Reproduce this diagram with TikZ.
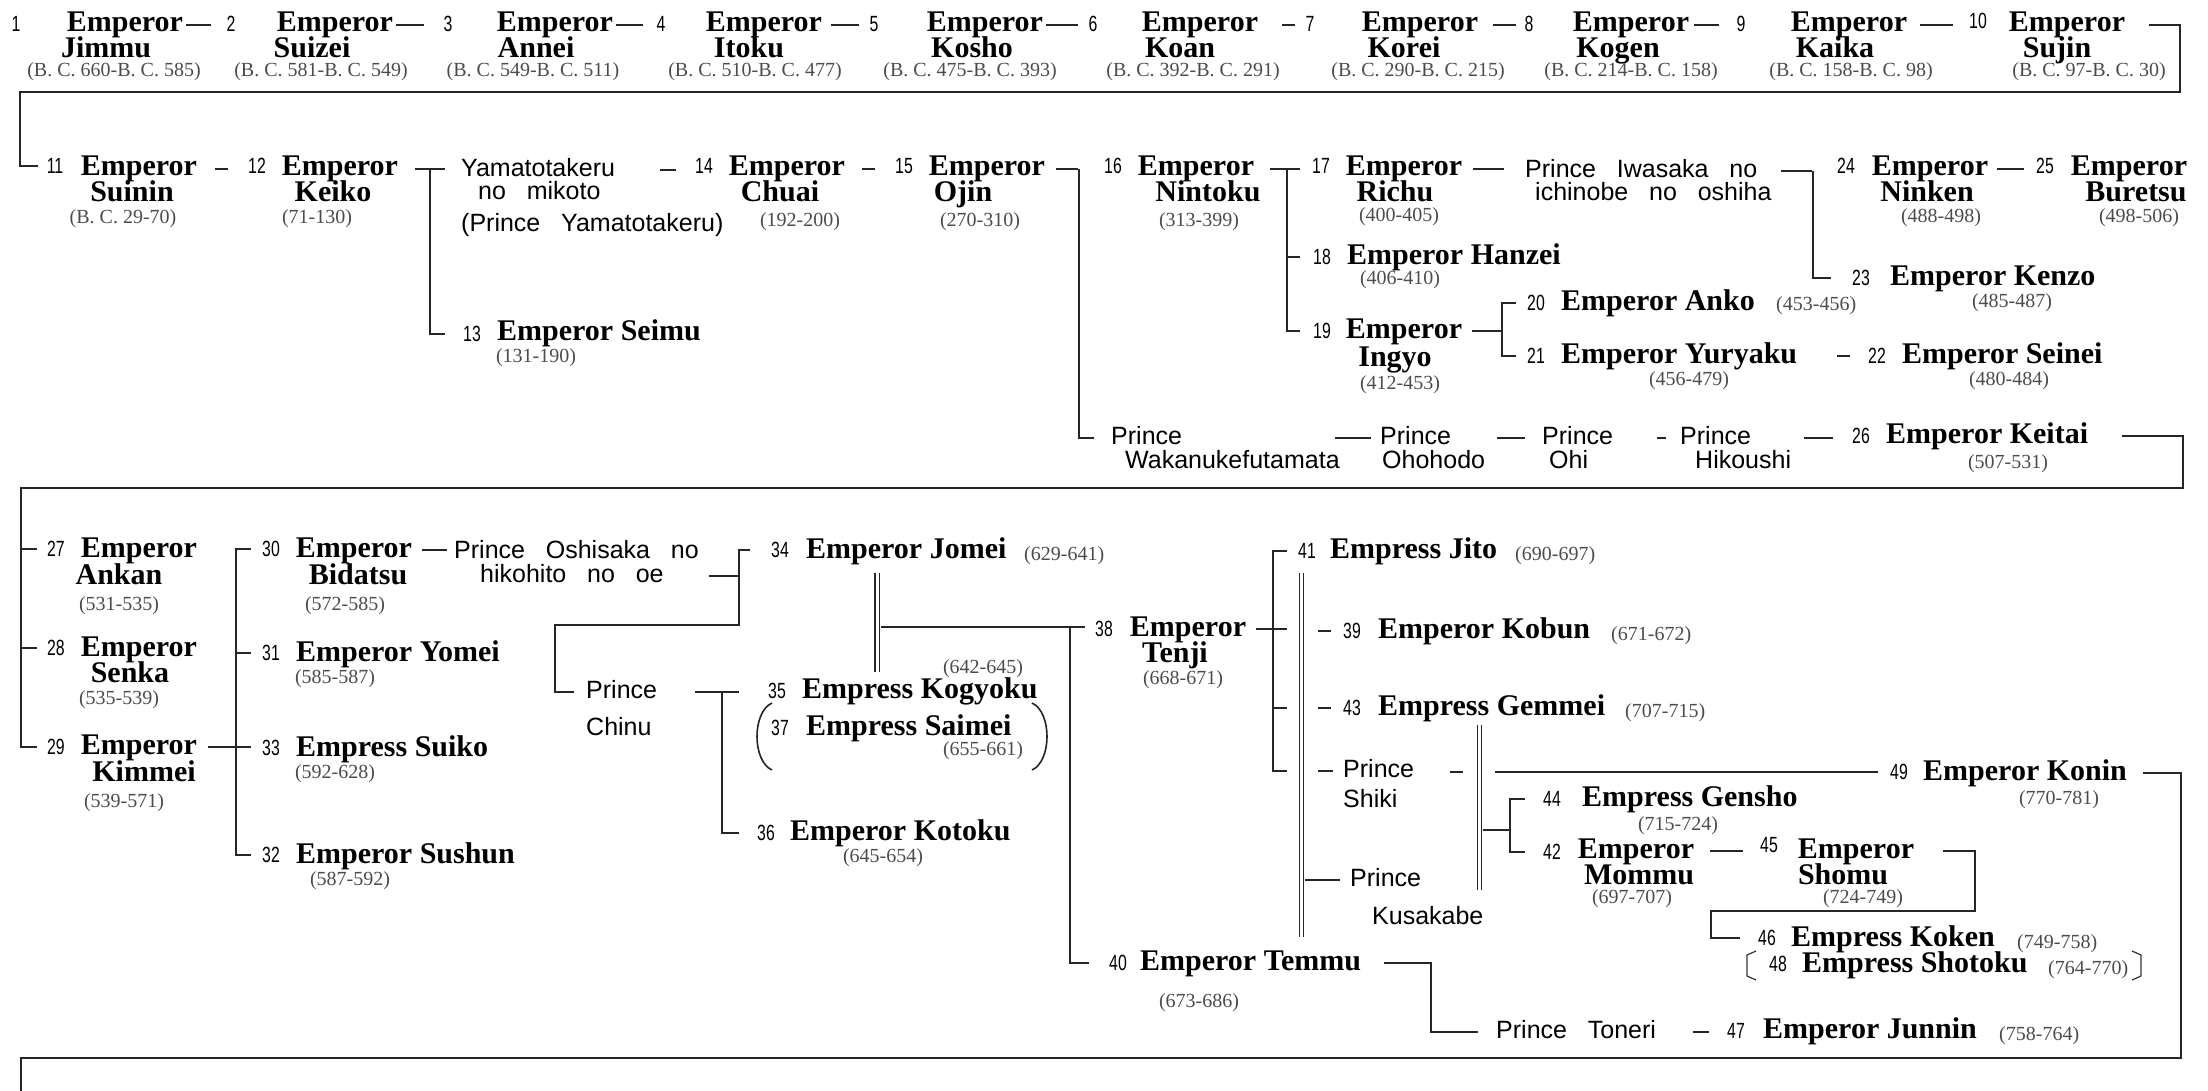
\documentclass[tikz,border=0pt]{standalone}
\usepackage{fontspec}
\setmainfont{Liberation Serif}
\newfontfamily\princefont[WordSpace=3]{Liberation Sans}
\newfontfamily\numfont[FakeStretch=0.72]{Liberation Sans}
\usepackage{xcolor}
\usetikzlibrary{positioning, calc}

\tikzset{
    num/.style={font={\numfont\fontsize{22}{22}\selectfont}, inner sep=1pt, text height=15pt, text depth=0pt},
    emp/.style={font={\bfseries\fontsize{30}{27}\selectfont}, inner sep=1pt, text height=20pt, text depth=6pt},
    reign/.style={font={\fontsize{20}{20}\selectfont}, text=black!70, inner sep=1pt, text height=14pt, text depth=4pt},
    prince/.style={font={\princefont\fontsize{25}{25}\selectfont}, inner sep=1pt, text height=18pt, text depth=5pt},
    link/.style={draw=black!85, line width=2pt},
    wed/.style={draw=black!85, line width=1.3pt, double=white, double distance=3pt}
}

\begin{document}
\begin{tikzpicture}[x=1pt, y=-1pt]
    \useasboundingbox[fill=white] (0,0) rectangle (2208,1091);

    % --- row 1: 1 to 10 ---
    \foreach \k/\nx/\ny/\ex/\nm/\mx/\dt/\dx in {
        1/16/32/125/Jimmu/106/{(B. C. 660-B. C. 585)}/114,
        2/231/32/335/Suizei/312/{(B. C. 581-B. C. 549)}/321,
        3/448/32/555/Annei/536/{(B. C. 549-B. C. 511)}/533,
        4/661/32/764/Itoku/749/{(B. C. 510-B. C. 477)}/755,
        5/874/32/985/Kosho/972/{(B. C. 475-B. C. 393)}/970,
        6/1093/32/1200/Koan/1180/{(B. C. 392-B. C. 291)}/1193,
        7/1310/32/1420/Korei/1404/{(B. C. 290-B. C. 215)}/1418,
        8/1529/32/1631/Kogen/1618/{(B. C. 214-B. C. 158)}/1631,
        9/1741/32/1849/Kaika/1835/{(B. C. 158-B. C. 98)}/1851,
        10/1978/29/2067/Sujin/2057/{(B. C. 97-B. C. 30)}/2089} {
        \node[num, anchor=base] (n\k) at (\nx,\ny) {\k};
        \node[emp, anchor=base] (e\k) at (\ex,32) {Emperor};
        \node[emp, anchor=base] (m\k) at (\mx,58) {\nm};
        \node[reign, anchor=base] (d\k) at (\dx,77) {\dt};
    }
    \foreach \a/\b/\s/\t in {1/2/2/14, 2/3/2/18, 3/4/2/12, 4/5/8/9, 5/6/2/9,
                             6/7/23/9, 7/8/14/7, 8/9/4/16, 9/10/12/15}
        \draw[link, shorten <=\s pt, shorten >=\t pt] (e\a.east) -- (e\a.east -| n\b.west);

    % --- row 2: 11 to 26 ---
    \node[num, anchor=base] (n11) at (55,174) {11};
    \node[emp, anchor=base] (e11) at (139,176) {Emperor};
    \node[emp, anchor=base] (m11) at (132,202) {Suinin};
    \node[reign, anchor=base] (d11) at (123,224) {(B. C. 29-70)};

    \node[num, anchor=base] (n12) at (257,174) {12};
    \node[emp, anchor=base] (e12) at (340,176) {Emperor};
    \node[emp, anchor=base] (m12) at (333,202) {Keiko};
    \node[reign, anchor=base] (d12) at (317,224) {(71-130)};

    \node[prince, anchor=base west] (ya1) at (460,177) {Yamatotakeru};
    \node[prince, anchor=base west] (ya2) at (477,200) {no mikoto};
    \node[prince, anchor=base west] (ya3) at (460,232) {(Prince Yamatotakeru)};

    \node[num, anchor=base] (n13) at (472,341) {13};
    \node[emp, anchor=base west] (e13) at (496,340) {Emperor Seimu};
    \node[reign, anchor=base] (d13) at (536,362) {(131-190)};

    \node[num, anchor=base] (n14) at (704,174) {14};
    \node[emp, anchor=base] (e14) at (787,176) {Emperor};
    \node[emp, anchor=base] (m14) at (780,202) {Chuai};
    \node[reign, anchor=base] (d14) at (800,227) {(192-200)};

    \node[num, anchor=base] (n15) at (904,174) {15};
    \node[emp, anchor=base] (e15) at (987,176) {Emperor};
    \node[emp, anchor=base] (m15) at (963,202) {Ojin};
    \node[reign, anchor=base] (d15) at (980,227) {(270-310)};

    \node[num, anchor=base] (n16) at (1113,174) {16};
    \node[emp, anchor=base] (e16) at (1196,176) {Emperor};
    \node[emp, anchor=base] (m16) at (1208,202) {Nintoku};
    \node[reign, anchor=base] (d16) at (1199,227) {(313-399)};

    \node[num, anchor=base] (n17) at (1321,174) {17};
    \node[emp, anchor=base] (e17) at (1404,176) {Emperor};
    \node[emp, anchor=base] (m17) at (1395,202) {Richu};
    \node[reign, anchor=base] (d17) at (1399,222) {(400-405)};

    \node[prince, anchor=base west] (iw1) at (1524,178) {Prince Iwasaka no};
    \node[prince, anchor=base west] (iw2) at (1534,201) {ichinobe no oshiha};

    \node[num, anchor=base] (n24) at (1846,174) {24};
    \node[emp, anchor=base] (e24) at (1930,176) {Emperor};
    \node[emp, anchor=base] (m24) at (1927,202) {Ninken};
    \node[reign, anchor=base] (d24) at (1941,223) {(488-498)};

    \node[num, anchor=base] (n25) at (2045,174) {25};
    \node[emp, anchor=base] (e25) at (2129,176) {Emperor};
    \node[emp, anchor=base] (m25) at (2136,202) {Buretsu};
    \node[reign, anchor=base] (d25) at (2139,223) {(498-506)};

    \node[num, anchor=base] (n18) at (1322,265) {18};
    \node[emp, anchor=base west] (e18) at (1346,265) {Emperor Hanzei};
    \node[reign, anchor=base] (d18) at (1400,285) {(406-410)};

    \node[num, anchor=base] (n23) at (1861,286) {23};
    \node[emp, anchor=base west] (e23) at (1889,286) {Emperor Kenzo};
    \node[reign, anchor=base] (d23) at (2012,308) {(485-487)};

    \node[num, anchor=base] (n19) at (1322,338) {19};
    \node[emp, anchor=base] (e19) at (1404,338) {Emperor};
    \node[emp, anchor=base] (m19) at (1395,366) {Ingyo};
    \node[reign, anchor=base] (d19) at (1400,389) {(412-453)};

    \node[num, anchor=base] (n20) at (1536,310) {20};
    \node[emp, anchor=base west] (e20) at (1560,310) {Emperor Anko};
    \node[reign, anchor=base west] (d20) at (1775,310) {(453-456)};

    \node[num, anchor=base] (n21) at (1536,363) {21};
    \node[emp, anchor=base west] (e21) at (1560,363) {Emperor Yuryaku};
    \node[reign, anchor=base] (d21) at (1689,385) {(456-479)};

    \node[num, anchor=base] (n22) at (1877,363) {22};
    \node[emp, anchor=base west] (e22) at (1901,363) {Emperor Seinei};
    \node[reign, anchor=base] (d22) at (2009,385) {(480-484)};

    \node[prince, anchor=base west] (pw1) at (1110,444) {Prince};
    \node[prince, anchor=base west] (pw2) at (1124,468) {Wakanukefutamata};
    \node[prince, anchor=base west] (po1) at (1379,444) {Prince};
    \node[prince, anchor=base west] (po2) at (1381,468) {Ohohodo};
    \node[prince, anchor=base west] (pi1) at (1541,444) {Prince};
    \node[prince, anchor=base west] (pi2) at (1548,468) {Ohi};
    \node[prince, anchor=base west] (ph1) at (1679,444) {Prince};
    \node[prince, anchor=base west] (ph2) at (1694,468) {Hikoushi};

    \node[num, anchor=base] (n26) at (1861,443) {26};
    \node[emp, anchor=base west] (e26) at (1885,443) {Emperor Keitai};
    \node[reign, anchor=base] (d26) at (2008,468) {(507-531)};

    % row 2 lines
    \coordinate (bend1) at (2180,92);
    \coordinate (bend2) at (20,92);
    \draw[link, shorten <=23pt, shorten >=8pt] (e10.east) -| (bend1) -- (bend2) |- (n11.west);
    \draw[link, shorten <=17pt, shorten >=19pt] (e11.east) -- (e11.east -| n12.west);
    \draw[link, shorten <=16pt, shorten >=15pt] (e12.east) -- (e12.east -| ya1.west);
    \coordinate (j12) at (430,0);
    \draw[link, shorten >=17pt] (j12 |- e12.east) |- (n13.west);
    \draw[link, shorten <=44pt, shorten >=18pt] (ya1.east) -- (ya1.east -| n14.west);
    \draw[link, shorten <=16pt, shorten >=19pt] (e14.east) -- (e14.east -| n15.west);
    \draw[link, shorten <=10pt, shorten >=25pt] (e15.east) -- (e15.east -| n16.west);
    \coordinate (j15) at (1079,0);
    \draw[link, shorten >=16pt] (j15 |- e15.east) |- (pw1.west);
    \draw[link, shorten <=15pt, shorten >=11pt] (e16.east) -- (e16.east -| n17.west);
    \coordinate (j16) at (1287,0);
    \draw[link, shorten >=12pt] (j16 |- e16.east) |- (n19.west);
    \draw[link, shorten >=12pt] (j16 |- n18.west) -- (n18.west);
    \draw[link, shorten <=10pt, shorten >=20pt] (e17.east) -- (e17.east -| iw1.west);
    \draw[link, shorten <=23pt, shorten >=24pt] (iw1.east) -- (iw1.east -| n24.west);
    \coordinate (j24) at (1813,0);
    \draw[link, shorten >=20pt] (j24 |- iw1.east) |- (n23.west);
    \draw[link, shorten <=8pt, shorten >=11pt] (e24.east) -- (e24.east -| n25.west);
    \coordinate (j19) at (1502,0);
    \draw[link, shorten <=9pt] (e19.east) -- (j19 |- e19.east);
    \draw[link, shorten <=10pt, shorten >=10pt] (n20.west) -| (j19 |- n21.west) -- (n21.west);
    \draw[link, shorten <=39pt, shorten >=17pt] (e21.east) -- (e21.east -| n22.west);
    \draw[link, shorten <=152pt, shorten >=8pt] (pw1.east) -- (po1.west);
    \draw[link, shorten <=45pt, shorten >=16pt] (po1.east) -- (pi1.west);
    \draw[link, shorten <=43pt, shorten >=13pt] (pi1.east) -- (ph1.west);
    \draw[link, shorten <=52pt, shorten >=18pt] (ph1.east) -- (ph1.east -| n26.west);

    % --- row 3: 27 to 49 ---
    \node[num, anchor=base] (n27) at (56,556) {27};
    \node[emp, anchor=base] (e27) at (139,557) {Emperor};
    \node[emp, anchor=base] (m27) at (119,584) {Ankan};
    \node[reign, anchor=base] (d27) at (119,610) {(531-535)};

    \node[num, anchor=base] (n28) at (56,655) {28};
    \node[emp, anchor=base] (e28) at (139,656) {Emperor};
    \node[emp, anchor=base] (m28) at (130,682) {Senka};
    \node[reign, anchor=base] (d28) at (119,704) {(535-539)};

    \node[num, anchor=base] (n29) at (56,754) {29};
    \node[emp, anchor=base] (e29) at (139,754) {Emperor};
    \node[emp, anchor=base] (m29) at (144,781) {Kimmei};
    \node[reign, anchor=base] (d29) at (124,807) {(539-571)};

    \node[num, anchor=base] (n30) at (271,556) {30};
    \node[emp, anchor=base] (e30) at (354,557) {Emperor};
    \node[emp, anchor=base] (m30) at (358,584) {Bidatsu};
    \node[reign, anchor=base] (d30) at (345,610) {(572-585)};

    \node[num, anchor=base] (n31) at (271,660) {31};
    \node[emp, anchor=base west] (e31) at (295,661) {Emperor Yomei};
    \node[reign, anchor=base] (d31) at (335,683) {(585-587)};

    \node[num, anchor=base] (n33) at (271,755) {33};
    \node[emp, anchor=base west] (e33) at (295,756) {Empress Suiko};
    \node[reign, anchor=base] (d33) at (335,778) {(592-628)};

    \node[num, anchor=base] (n32) at (271,862) {32};
    \node[emp, anchor=base west] (e32) at (295,863) {Emperor Sushun};
    \node[reign, anchor=base] (d32) at (350,885) {(587-592)};

    \node[prince, anchor=base west] (os1) at (453,558) {Prince Oshisaka no};
    \node[prince, anchor=base west] (os2) at (479,582) {hikohito no oe};
    \node[prince, anchor=base west] (pc1) at (585,698) {Prince};
    \node[prince, anchor=base west] (pc2) at (585,735) {Chinu};

    \node[num, anchor=base] (n34) at (780,557) {34};
    \node[emp, anchor=base west] (e34) at (805,558) {Emperor Jomei};
    \node[reign, anchor=base west] (d34) at (1023,560) {(629-641)};

    \node[num, anchor=base] (n35) at (777,698) {35};
    \node[emp, anchor=base west] (e35) at (801,698) {Empress Kogyoku};
    \node[reign, anchor=base] (d35) at (983,673) {(642-645)};

    \node[num, anchor=base] (n37) at (780,735) {37};
    \node[emp, anchor=base west] (e37) at (805,735) {Empress Saimei};
    \node[reign, anchor=base] (d37) at (983,755) {(655-661)};

    \node[num, anchor=base] (n36) at (766,840) {36};
    \node[emp, anchor=base west] (e36) at (789,840) {Emperor Kotoku};
    \node[reign, anchor=base] (d36) at (883,862) {(645-654)};

    \node[num, anchor=base] (n38) at (1104,636) {38};
    \node[emp, anchor=base] (e38) at (1188,636) {Emperor};
    \node[emp, anchor=base] (m38) at (1175,662) {Tenji};
    \node[reign, anchor=base] (d38) at (1183,684) {(668-671)};

    \node[num, anchor=base] (n41) at (1307,558) {41};
    \node[emp, anchor=base west] (e41) at (1329,558) {Empress Jito};
    \node[reign, anchor=base west] (d41) at (1514,560) {(690-697)};

    \node[num, anchor=base] (n39) at (1352,638) {39};
    \node[emp, anchor=base west] (e39) at (1377,638) {Emperor Kobun};
    \node[reign, anchor=base west] (d39) at (1610,640) {(671-672)};

    \node[num, anchor=base] (n43) at (1352,715) {43};
    \node[emp, anchor=base west] (e43) at (1377,715) {Empress Gemmei};
    \node[reign, anchor=base west] (d43) at (1624,717) {(707-715)};

    \node[prince, anchor=base west] (ps1) at (1342,777) {Prince};
    \node[prince, anchor=base west] (ps2) at (1342,807) {Shiki};
    \node[prince, anchor=base west] (pk1) at (1349,886) {Prince};
    \node[prince, anchor=base west] (pk2) at (1371,924) {Kusakabe};

    \node[num, anchor=base] (n49) at (1899,779) {49};
    \node[emp, anchor=base west] (e49) at (1922,780) {Emperor Konin};
    \node[reign, anchor=base] (d49) at (2059,804) {(770-781)};

    \node[num, anchor=base] (n44) at (1552,806) {44};
    \node[emp, anchor=base west] (e44) at (1581,806) {Empress Gensho};
    \node[reign, anchor=base] (d44) at (1678,830) {(715-724)};

    \node[num, anchor=base] (n42) at (1552,859) {42};
    \node[emp, anchor=base] (e42) at (1636,858) {Emperor};
    \node[emp, anchor=base] (m42) at (1639,884) {Mommu};
    \node[reign, anchor=base] (d42) at (1632,903) {(697-707)};

    \node[num, anchor=base] (n45) at (1769,852) {45};
    \node[emp, anchor=base] (e45) at (1856,858) {Emperor};
    \node[emp, anchor=base] (m45) at (1843,884) {Shomu};
    \node[reign, anchor=base] (d45) at (1863,903) {(724-749)};

    \node[num, anchor=base] (n46) at (1767,945) {46};
    \node[emp, anchor=base west] (e46) at (1790,946) {Empress Koken};
    \node[reign, anchor=base west] (d46) at (2016,948) {(749-758)};

    \node[num, anchor=base] (n48) at (1778,971) {48};
    \node[emp, anchor=base west] (e48) at (1801,972) {Empress Shotoku};
    \node[reign, anchor=base west] (d48) at (2047,974) {(764-770)};

    \node[num, anchor=base] (n40) at (1118,970) {40};
    \node[emp, anchor=base west] (e40) at (1139,970) {Emperor Temmu};
    \node[reign, anchor=base] (d40) at (1199,1007) {(673-686)};

    \node[prince, anchor=base west] (pt) at (1495,1038) {Prince Toneri};

    \node[num, anchor=base] (n47) at (1736,1038) {47};
    \node[emp, anchor=base west] (e47) at (1762,1038) {Emperor Junnin};
    \node[reign, anchor=base west] (d47) at (1998,1040) {(758-764)};

    % row 3 lines
    \coordinate (bend3) at (2183,488);
    \coordinate (bend4) at (21,488);
    \draw[link, shorten <=33pt, shorten >=9pt] (e26.east) -| (bend3) -- (bend4) |- (n29.west);
    \draw[link, shorten >=9pt] (bend4 |- n27.west) -- (n27.west);
    \draw[link, shorten >=9pt] (bend4 |- n28.west) -- (n28.west);

    \coordinate (j29) at (236,0);
    \draw[link, shorten <=10pt, shorten >=10pt] (e29.east) -- (e29.east -| n33.west);
    \draw[link, shorten <=10pt, shorten >=10pt] (n30.west) -| (j29 |- n32.west) -- (n32.west);
    \draw[link, shorten >=10pt] (j29 |- n31.west) -- (n31.west);

    \draw[link, shorten <=9pt, shorten >=6pt] (e30.east) -- (e30.east -| os1.west);
    \coordinate (j30a) at (739,625);
    \coordinate (j30b) at (555,625);
    \draw[link, shorten <=44pt] (os2.east) -- (os2.east -| j30a);
    \draw[link, shorten <=20pt, shorten >=11pt] (n34.west) -| (j30a) -- (j30b) |- (pc1.west);

    \coordinate (j35) at (722,0);
    \draw[link, shorten <=37pt, shorten >=28pt] (pc1.east) -- (pc1.east -| n35.west);
    \draw[link, shorten >=17pt] (j35 |- pc1.east) |- (n36.west);

    % brackets round 37
    \draw[line width=1.6pt, black!85] (772,703) .. controls (752,712) and (752,761) .. (772,770);
    \draw[line width=1.6pt, black!85] (1032,703) .. controls (1052,712) and (1052,761) .. (1032,770);

    % 34 = 35
    \coordinate (w34) at (877,627);
    \draw[wed, shorten <=8pt, shorten >=5pt] (e34.south -| w34) -- (e35.north -| w34);
    \draw[link, shorten <=4pt, shorten >=9pt] (w34) -- (w34 -| n38.west);
    \coordinate (j38) at (1070,0);
    \draw[link, shorten >=19pt] (j38 |- w34) |- (n40.west);

    % 38's children
    \coordinate (v38) at (1273,0);
    \coordinate (gap) at (1287,0);
    \coordinate (gap2) at (1318,0);
    \draw[link] (gap |- n41.west) -| (v38 |- ps1.west) -- (gap |- ps1.west);
    \draw[link, shorten <=9pt] (e38.east) -- (gap |- e38.east);
    \draw[link] (v38 |- n43.west) -- (gap |- n43.west);
    \draw[link, shorten >=11pt] (gap2 |- n39.west) -- (n39.west);
    \draw[link, shorten >=11pt] (gap2 |- n43.west) -- (n43.west);
    \draw[link, shorten >=9pt] (gap2 |- ps1.west) -- (ps1.west);

    % 41 = 40, 43 = Kusakabe
    \coordinate (w41) at (1301.5,0);
    \draw[wed, shorten <=8pt, shorten >=12pt] (w41 |- e41.south) -- (w41 |- e40.north);
    \draw[link, shorten <=3pt, shorten >=9pt] (w41 |- pk1.west) -- (pk1.west);
    \coordinate (w43) at (1479.5,0);
    \draw[wed, shorten <=3pt, shorten >=15pt] (w43 |- e43.south) -- (w43 |- pk2.north);
    \coordinate (j44) at (1510,830);
    \draw[link, shorten <=3pt] (w43 |- j44) -- (j44);
    \draw[link, shorten <=17pt, shorten >=17pt] (n44.west) -| (j44) |- (n42.west);

    % Shiki to 49
    \coordinate (gap3) at (1463,0);
    \coordinate (gap4) at (1495,0);
    \draw[link, shorten <=35pt] (ps1.east |- n49.west) -- (gap3 |- n49.west);
    \draw[link, shorten >=11pt] (gap4 |- n49.west) -- (n49.west);

    % 42 to 46
    \draw[link, shorten <=15pt, shorten >=16pt] (e42.east) -- (e42.east -| n45.west);
    \coordinate (b45a) at (1975,911);
    \coordinate (b45b) at (1711,911);
    \draw[link, shorten <=28pt, shorten >=17pt] (e45.east) -| (b45a) -- (b45b) |- (n46.west);

    % brackets round 48
    \draw[line width=1.2pt, black!80] (1756,951) -- (1747,955) -- (1747,976) -- (1756,980);
    \draw[line width=1.2pt, black!80] (2132,951) -- (2141,955) -- (2141,976) -- (2132,980);

    % 40 to 47
    \coordinate (b40) at (1431,0);
    \draw[link, shorten <=22pt, shorten >=17pt] (e40.east) -| (b40 |- pt.west) -- (pt.west);
    \draw[link, shorten <=36pt, shorten >=17pt] (pt.east) -- (pt.east -| n47.west);

    % 49 onwards
    \coordinate (bend5) at (2181,1058);
    \coordinate (bend6) at (21,1058);
    \coordinate (bend7) at (21,1091);
    \draw[link, shorten <=15pt] (e49.east) -| (bend5) -- (bend6) -- (bend7);

\end{tikzpicture}
\end{document}
